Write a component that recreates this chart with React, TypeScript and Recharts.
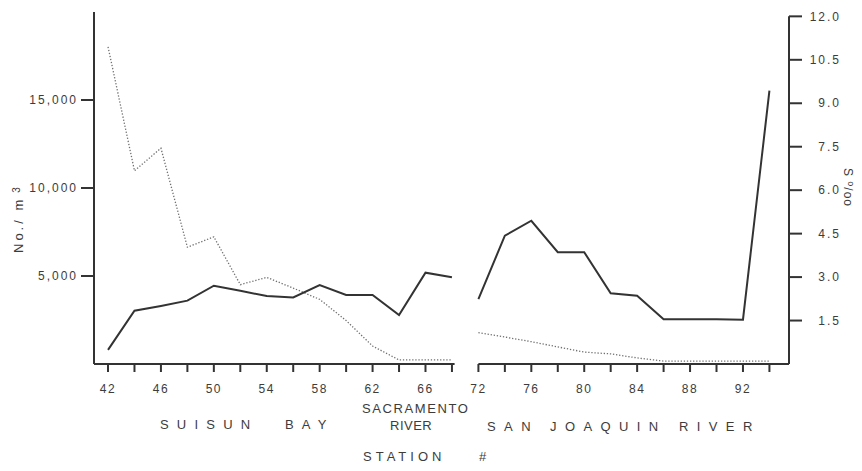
import React from 'react';
import { LineChart, Line, XAxis, YAxis, ReferenceLine } from 'recharts';

const FONT = '"Liberation Sans", Arial, Helvetica, sans-serif';
const INK = '#333333';
const TEXT = '#3c3c3c';

// Stations (Suisun Bay / Sacramento River, then San Joaquin River)
const stations = [42, 44, 46, 48, 50, 52, 54, 56, 58, 60, 62, 64, 66, 68,
  72, 74, 76, 78, 80, 82, 84, 86, 88, 90, 92, 94];
// No./m3 (solid line, left axis)
const abundance = [800, 3030, 3300, 3600, 4450, 4160, 3860, 3780, 4490, 3920, 3920, 2780, 5190, 4930,
  3690, 7290, 8140, 6350, 6350, 4020, 3880, 2540, 2540, 2540, 2520, 15530];
// Salinity S o/oo (dotted line, right axis)
const salinity = [10.95, 6.67, 7.45, 4.03, 4.39, 2.74, 2.99, 2.62, 2.23, 1.5, 0.62, 0.14, 0.14, 0.14,
  1.08, 0.93, 0.77, 0.59, 0.41, 0.35, 0.21, 0.1, 0.1, 0.1, 0.1, 0.1];
const labeledStations = [42, 46, 50, 54, 58, 62, 66, 72, 76, 80, 84, 88, 92];
const leftTicks = [5000, 10000, 15000];
const rightTicks = [1.5, 3, 4.5, 6, 7.5, 9, 10.5, 12];

// x position on the axis: station 70 is absent, so the river section follows right after 68
const posOf = (s: number) => (s <= 68 ? (s - 42) / 2 : (s - 44) / 2);
const stationOf = (p: number) => (p <= 13 ? 42 + 2 * p : 44 + 2 * p);

const data: any[] = [];
stations.forEach((s, i) => {
  if (s === 72) data.push({ pos: 13.5, abund: null, sal: null });
  data.push({ pos: posOf(s), abund: abundance[i], sal: salinity[i] });
});
const tickPositions = stations.map(posOf);

const X_MIN = -0.53;
const X_MAX = 25.74;

const RightTick = (props: any) => {
  const { x, y, payload } = props;
  return (
    <text x={x + 39} y={y} dy="0.35em" textAnchor="end" fontSize={12} fill={TEXT}
      fontFamily={FONT} letterSpacing={2}>
      {Number(payload.value).toFixed(1)}
    </text>
  );
};

const words = (items: { t: string; x: number }[], y: number, ls: number) =>
  items.map((w, i) => (
    <text key={w.t + i} x={w.x} y={y} fontSize={13} fill={TEXT} fontFamily={FONT} letterSpacing={ls}>
      {w.t}
    </text>
  ));

export default function App() {
  return (
    <div style={{ position: 'relative', width: 846, height: 455, fontFamily: FONT }}>
      <LineChart width={846} height={455} data={data}
        margin={{ top: 4, right: 5, bottom: 69, left: 26 }}>
        <XAxis dataKey="pos" type="number" domain={[X_MIN, X_MAX]} ticks={tickPositions}
          interval={0} axisLine={false} tickSize={8} tickMargin={12} height={30}
          tickLine={{ stroke: INK, strokeWidth: 2 }}
          tickFormatter={(p: number) => {
            const s = stationOf(p);
            return labeledStations.includes(s) ? String(s) : '';
          }}
          tick={{ fontSize: 12, fill: TEXT, fontFamily: FONT, letterSpacing: 1.5 }} />
        <YAxis yAxisId="left" domain={[0, 20000]} ticks={leftTicks} width={60}
          axisLine={{ stroke: INK, strokeWidth: 2 }} tickLine={{ stroke: INK, strokeWidth: 2 }}
          tickSize={13} tickMargin={3}
          tickFormatter={(v: number) => v.toLocaleString('en-US')}
          tick={{ fontSize: 12, fill: TEXT, fontFamily: FONT, letterSpacing: 2 }} />
        <YAxis yAxisId="right" orientation="right" domain={[0, 12.15]} ticks={rightTicks} width={60}
          axisLine={false} tickLine={{ stroke: INK, strokeWidth: 2 }} tickSize={13} tickMargin={0}
          tick={<RightTick />} />
        <ReferenceLine yAxisId="left" ifOverflow="visible" stroke={INK} strokeWidth={2}
          segment={[{ x: X_MIN, y: 0 }, { x: 13.1, y: 0 }]} />
        <ReferenceLine yAxisId="left" ifOverflow="visible" stroke={INK} strokeWidth={2}
          segment={[{ x: 14, y: 0 }, { x: X_MAX, y: 0 }]} />
        <ReferenceLine yAxisId="right" ifOverflow="visible" stroke={INK} strokeWidth={2}
          segment={[{ x: X_MAX, y: 0 }, { x: X_MAX, y: 12 }]} />
        <Line yAxisId="right" dataKey="sal" type="linear" stroke="#707070" strokeWidth={1.3}
          strokeDasharray="1.3 1.8" dot={false} activeDot={false} isAnimationActive={false} />
        <Line yAxisId="left" dataKey="abund" type="linear" stroke="#333" strokeWidth={2}
          dot={false} activeDot={false} isAnimationActive={false} />
      </LineChart>
      <svg width={846} height={455} style={{ position: 'absolute', left: 0, top: 0, overflow: 'visible', pointerEvents: 'none' }}>
        <text transform="translate(15,245) rotate(-90)" fontSize={13} fill={TEXT} fontFamily={FONT} letterSpacing={3}>
          No./ m<tspan dx={4} dy={-3} fontSize={10}>3</tspan>
        </text>
        <text transform="translate(836,160) rotate(90)" fontSize={12} fill={TEXT} fontFamily={FONT} letterSpacing={1}>
          S <tspan dy={-4} fontSize={9}>o</tspan><tspan dy={4}>/oo</tspan>
        </text>
        {words([{ t: 'SACRAMENTO', x: 354 }], 405, 1.6)}
        {words([{ t: 'RIVER', x: 382 }], 422, 0.5)}
        {words([{ t: 'SUISUN', x: 152 }, { t: 'BAY', x: 277 }], 421, 8.2)}
        {words([{ t: 'SAN', x: 479 }, { t: 'JOAQUIN', x: 542 }, { t: 'RIVER', x: 671 }], 423, 8.4)}
        {words([{ t: 'STATION', x: 355 }, { t: '#', x: 471 }], 453, 4)}
      </svg>
    </div>
  );
}
